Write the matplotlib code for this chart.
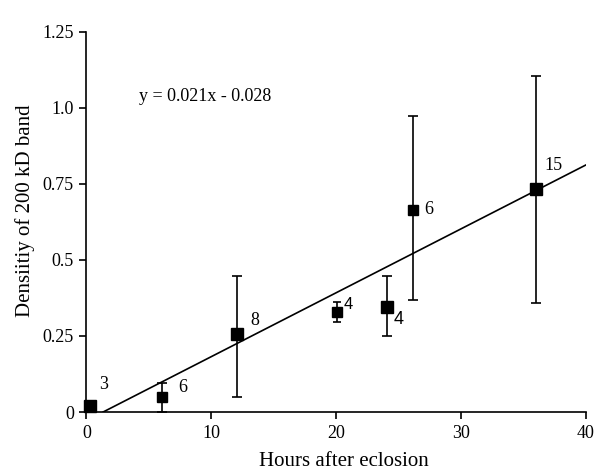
import matplotlib
matplotlib.use("Agg")
import matplotlib.pyplot as plt
import numpy as np

# Data
hours = [0.3, 6.05, 12.1, 20.1, 24.1, 26.2, 36.05]
density = [0.02, 0.048, 0.256, 0.328, 0.344, 0.666, 0.734]
err_low = [0.02, 0.0, 0.05, 0.297, 0.25, 0.369, 0.359]
err_high = [0.02, 0.095, 0.447, 0.363, 0.447, 0.973, 1.106]
n_labels = ["3", "6", "8", "4", "4", "6", "15"]
slope = 0.021
intercept = -0.028
x_ticks = [0, 10, 20, 30, 40]
y_ticks = [0, 0.25, 0.5, 0.75, 1.0, 1.25]
y_tick_labels = ["0", "0.25", "0.5", "0.75", "1.0", "1.25"]

# Style per point
label_offsets = [(9.4, 15.1), (14.9, 7.4), (12.2, 9.6), (8.1, 5.3), (7.9, -8.4), (10.8, 0), (12.5, 17.1)]
label_fonts = ["serif", "serif", "serif", "sans", "sans", "serif", "serif"]
label_sizes = [13, 13, 13, 12, 13, 13, 13]
marker_sizes = [8, 7.5, 8, 6.5, 8, 7.5, 8]
cap_sizes = [3.6, 3.6, 3.6, 3.2, 3.6, 3.6, 3.6]

plt.rcParams['font.family'] = ['Liberation Serif', 'DejaVu Serif']

fig = plt.figure(figsize=(6.04, 4.74), dpi=100)
ax = fig.add_axes([0.1432, 0.1308, 0.8262, 0.8017])

# Regression line
x0 = -intercept / slope
xl = np.array([x0, 40])
ax.plot(xl, slope * xl + intercept, color='black', lw=1.2, zorder=2)

for i in range(len(hours)):
    lo = density[i] - err_low[i]
    hi = err_high[i] - density[i]
    if lo > 0 or hi > 0:
        ax.errorbar([hours[i]], [density[i]], yerr=[[lo], [hi]], fmt='none',
                    ecolor='black', elinewidth=1.2, capsize=cap_sizes[i], capthick=1.2,
                    zorder=3, clip_on=False)
    ax.plot([hours[i]], [density[i]], marker='s', color='black',
            markersize=marker_sizes[i], linestyle='none', zorder=4, clip_on=False)
    fam = ['Liberation Sans', 'DejaVu Sans'] if label_fonts[i] == 'sans' else ['Liberation Serif']
    ax.annotate(n_labels[i], (hours[i], density[i]), xytext=label_offsets[i],
                textcoords='offset points', ha='center', va='center',
                fontsize=label_sizes[i], family=fam)

ax.text(0.106, 0.829, "y = 0.021x - 0.028", transform=ax.transAxes,
        fontsize=13, ha='left', va='center')

ax.set_xlim(0, 40)
ax.set_ylim(0, 1.25)
ax.set_xticks(x_ticks)
ax.set_yticks(y_ticks)
ax.set_yticklabels(y_tick_labels)
ax.tick_params(direction='out', length=5, width=1.2, labelsize=13, colors='black', pad=4)
for s in ['top', 'right']:
    ax.spines[s].set_visible(False)
for s in ['left', 'bottom']:
    ax.spines[s].set_linewidth(1.2)

ax.set_xlabel("Hours after eclosion", fontsize=15, va='center', ha='center')
ax.set_ylabel("Densiitiy of 200 kD band", fontsize=15, va='center', ha='center')
ax.xaxis.set_label_coords(0.515, -0.131)
ax.yaxis.set_label_coords(-0.124, 0.529)

fig.savefig("out.png", dpi=100)
